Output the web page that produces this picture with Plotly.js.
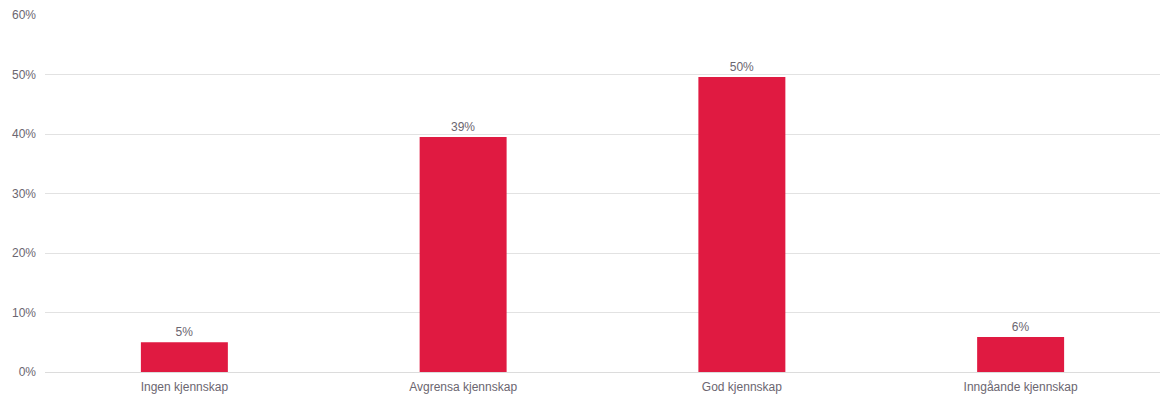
<!DOCTYPE html>
<html>
<head>
<meta charset="utf-8">
<script src="https://cdn.plot.ly/plotly-3.0.1.min.js"></script>
<style>html,body{margin:0;padding:0;background:#fff;}#chart{width:1161px;height:416px;}</style>
</head>
<body>
<div id="chart"></div>
<script>
const categories = ["Ingen kjennskap", "Avgrensa kjennskap", "God kjennskap", "Inngåande kjennskap"];
const values = [5.0, 39.5, 49.6, 5.9];
const labels = ["5%", "39%", "50%", "6%"];
const tickVals = [0, 10, 20, 30, 40, 50, 60];
const tickText = ["0%", "10%", "20%", "30%", "40%", "50%", "60%"];

const textColor = "#6b6670";
Plotly.newPlot("chart", [{
  type: "bar",
  x: categories,
  y: values,
  text: labels,
  textposition: "outside",
  cliponaxis: false,
  textfont: {family: "Liberation Sans, Arial, sans-serif", size: 12, color: textColor},
  marker: {color: "#e01a41"},
  hoverinfo: "x+y"
}], {
  width: 1161, height: 416,
  margin: {l: 45, r: 1, t: 15, b: 44},
  paper_bgcolor: "#fff", plot_bgcolor: "#fff",
  bargap: 0.688,
  showlegend: false,
  font: {family: "Liberation Sans, Arial, sans-serif", size: 12, color: textColor},
  xaxis: {showgrid: false, showline: false, zeroline: false, ticks: "", ticklabelstandoff: 6,
          tickfont: {size: 12, color: textColor}},
  yaxis: {range: [0, 60], tickvals: tickVals, ticktext: tickText, showgrid: true, gridcolor: "#e2e2e2",
          zeroline: true, zerolinecolor: "#dcdcdc", zerolinewidth: 1, showline: false, ticks: "",
          ticklabelstandoff: 8, tickfont: {size: 12, color: textColor}}
}, {displayModeBar: false, staticPlot: true});
</script>
</body>
</html>
